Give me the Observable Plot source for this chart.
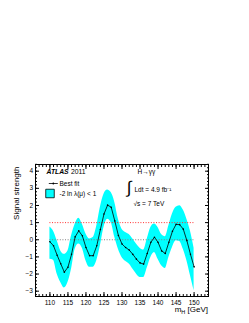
<!DOCTYPE html>
<html>
<head>
<meta charset="utf-8">
<script src="https://cdn.jsdelivr.net/npm/d3@7"></script>
<script src="https://cdn.jsdelivr.net/npm/@observablehq/plot@0.6"></script>
<style>
  html, body { margin: 0; padding: 0; background: #fff; }
  svg { display: block; }
</style>
</head>
<body>
<div id="chart"></div>
<script>
// Higgs mass hypotheses (GeV)
const masses = [110,111,112,113,114,115,116,117,118,119,120,121,122,123,124,125,126,127,128,129,130,
                131,132,133,134,135,136,137,138,139,140,141,142,143,144,145,146,147,148,149,150];
// Best-fit signal strength
const bestFit = [-0.12,-0.35,-0.9,-1.4,-1.89,-1.6,-0.85,0.17,0.52,0.23,-0.45,-0.93,-0.93,-0.35,0.6,1.5,2.02,1.9,1.1,0.25,-0.25,
                 -0.45,-0.6,-0.85,-1.13,-1.35,-1.42,-0.8,-0.15,0.15,-0.15,-0.65,-0.8,-0.15,0.5,0.9,0.88,0.62,-0.05,-0.85,-1.58];
// -2 ln lambda(mu) < 1 band
const bandLow  = [-1.13,-1.2,-2.0,-2.5,-2.82,-2.5,-1.7,-0.55,-0.25,-0.5,-1.22,-1.6,-1.6,-1.22,-0.35,0.72,1.2,1.0,0.14,-0.55,-1.03,
                  -1.26,-1.42,-1.71,-2.0,-2.2,-2.2,-1.65,-1.03,-0.74,-1.13,-1.52,-1.67,-1.03,-0.45,-0.06,-0.1,-0.55,-1.22,-2.1,-2.98];
const bandHigh = [0.75,0.5,-0.05,-0.65,-0.85,-0.65,0.23,0.9,1.25,0.9,0.33,0.05,0.13,0.8,1.9,2.66,2.9,2.75,2.18,1.2,0.62,
                  0.43,0.3,0.04,-0.25,-0.49,-0.6,0.04,0.72,0.92,0.72,0.3,0.18,0.82,1.5,1.89,1.98,1.73,1.2,0.49,-0.49];
// Reference lines
const refValues = [1, 0];
const refColors = ["#ff3030", "#808080"];
// Axis ticks
const xTicks = [110,115,120,125,130,135,140,145,150];
const xMinor = d3.range(106, 155, 1);
const yTicks = [-3,-2,-1,0,1,2,3,4];
const yMinor = d3.range(-3.2, 4.41, 0.2).map(v => +v.toFixed(1));

const data = masses.map((m, i) => ({m, fit: bestFit[i], lo: bandLow[i], hi: bandHigh[i]}));
const refs = refValues.map((y, i) => ({y, color: refColors[i], x1: masses[0], x2: masses[masses.length - 1]}));

const hline = { draw(ctx, size) { const w = Math.sqrt(size / Math.PI); ctx.moveTo(-w, 0); ctx.lineTo(w, 0); } };

const W = 249, H = 323, ML = 35, MR = 41, MT = 164, MB = 27;
const font = "'Liberation Sans', Arial, Helvetica, sans-serif";

const chart = Plot.plot({
  width: W, height: H,
  marginLeft: ML, marginRight: MR, marginTop: MT, marginBottom: MB,
  x: {domain: [106, 154]},
  y: {domain: [-3.31, 4.39]},
  style: {fontFamily: font, fontSize: "6.5px", color: "#000", background: "#fff"},
  marks: [
    Plot.areaY(data, {x: "m", y1: "lo", y2: "hi", fill: "#00ffff", curve: "monotone-x"}),
    Plot.ruleY(refs, {y: "y", x1: "x1", x2: "x2", stroke: "color", strokeWidth: 1, strokeDasharray: "1,1.6"}),
    Plot.line(data, {x: "m", y: "fit", stroke: "#000", strokeWidth: 0.8}),
    Plot.dot(data, {x: "m", y: "fit", r: 0.8, fill: "#000"}),
    Plot.frame({stroke: "#000", strokeWidth: 1}),
    // x axis: labels + inward ticks on bottom and top
    Plot.axisX({anchor: "bottom", ticks: xTicks, tickSize: 0, tickPadding: 4, label: null, fontSize: 6.5}),
    Plot.axisX({anchor: "bottom", ticks: xTicks, tickSize: -4, text: null, label: null}),
    Plot.axisX({anchor: "bottom", ticks: xMinor, tickSize: -2, text: null, label: null}),
    Plot.axisX({anchor: "top", ticks: xTicks, tickSize: -4, text: null, label: null}),
    Plot.axisX({anchor: "top", ticks: xMinor, tickSize: -2, text: null, label: null}),
    // y axis
    Plot.axisY({anchor: "left", ticks: yTicks, tickSize: 0, tickPadding: 2.5, label: null, fontSize: 6.5}),
    Plot.axisY({anchor: "left", ticks: yTicks, tickSize: -4, text: null, label: null}),
    Plot.axisY({anchor: "left", ticks: yMinor, tickSize: -2, text: null, label: null}),
    Plot.axisY({anchor: "right", ticks: yTicks, tickSize: -4, text: null, label: null}),
    Plot.axisY({anchor: "right", ticks: yMinor, tickSize: -2, text: null, label: null}),
    // y title
    Plot.text(["Signal strength"], {frameAnchor: "top-left", dx: -19, dy: 2, rotate: -90, textAnchor: "end", lineAnchor: "middle", fontSize: 8}),
    // ATLAS label
    Plot.text(["ATLAS"], {frameAnchor: "top-left", dx: 11, dy: 7, textAnchor: "start", lineAnchor: "middle", fontWeight: "bold", fontStyle: "italic", fontSize: 6.8}),
    Plot.text(["2011"], {frameAnchor: "top-left", dx: 35.5, dy: 7, textAnchor: "start", lineAnchor: "middle", fontSize: 6.8}),
    // legend
    Plot.dot([0], {frameAnchor: "top-left", dx: 17.8, dy: 19, symbol: hline, r: 4.5, stroke: "#000", strokeWidth: 0.8, fill: "none"}),
    Plot.dot([0], {frameAnchor: "top-left", dx: 17.8, dy: 19, r: 0.9, fill: "#000"}),
    Plot.text(["Best fit"], {frameAnchor: "top-left", dx: 24, dy: 19, textAnchor: "start", lineAnchor: "middle", fontSize: 6.5}),
    Plot.dot([0], {frameAnchor: "top-left", dx: 14.5, dy: 29, symbol: "square", r: 4.8, fill: "#00ffff", stroke: "#000", strokeWidth: 0.8}),
    Plot.text(["-2 ln λ(μ) < 1"], {frameAnchor: "top-left", dx: 24, dy: 29, textAnchor: "start", lineAnchor: "middle", fontSize: 6.5}),
    // channel / luminosity labels
    Plot.text(["H→γγ"], {frameAnchor: "top-left", dx: 102, dy: 7, textAnchor: "start", lineAnchor: "middle", fontSize: 6.5}),
    Plot.text(["∫"], {frameAnchor: "top-left", dx: 93.5, dy: 23.5, textAnchor: "middle", lineAnchor: "middle", fontSize: 17}),
    Plot.text(["Ldt = 4.9 fb⁻¹"], {frameAnchor: "top-left", dx: 99, dy: 25, textAnchor: "start", lineAnchor: "middle", fontSize: 6.5}),
    Plot.text(["√s = 7 TeV"], {frameAnchor: "top-left", dx: 98, dy: 39, textAnchor: "start", lineAnchor: "middle", fontSize: 6.5})
  ]
});

document.getElementById("chart").appendChild(chart);

// x axis title with subscript
const t = d3.select(chart).append("text")
  .attr("x", W - MR).attr("y", H - MB + 16)
  .attr("text-anchor", "end")
  .attr("font-family", font)
  .attr("font-size", 8)
  .attr("fill", "#000");
t.append("tspan").text("m");
t.append("tspan").attr("font-size", 5.5).attr("dy", 1.5).text("H");
t.append("tspan").attr("dy", -1.5).text(" [GeV]");
</script>
</body>
</html>
